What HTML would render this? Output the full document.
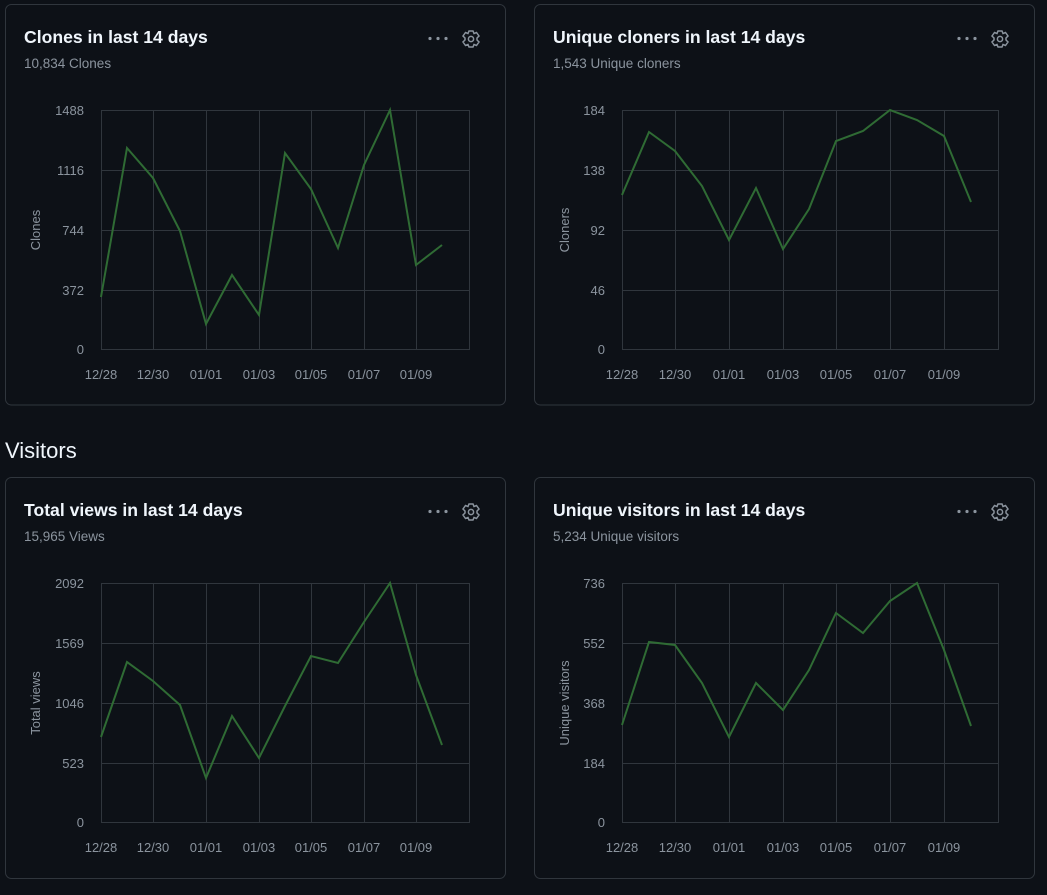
<!DOCTYPE html>
<html><head><meta charset="utf-8"><style>
html,body{margin:0;padding:0;background:#0d1117;width:1047px;height:895px;overflow:hidden}
svg{display:block;font-family:"Liberation Sans",sans-serif}
.t{fill:#f0f6fc;font-size:17.6px;font-weight:bold}
.s{fill:#8b949e;font-size:13.5px}
.y{fill:#8b949e;font-size:13px;text-anchor:end}
.x{fill:#8b949e;font-size:13px;text-anchor:middle}
.a{fill:#8b949e;font-size:13px;text-anchor:middle}
.g{stroke:#30363d;stroke-width:1;fill:none}
.l{stroke:#2f6b34;stroke-width:2;fill:none;stroke-linejoin:miter}
.p{fill:none;stroke:#30363d;stroke-width:1}
</style></head><body>
<svg width="1047" height="895" viewBox="0 0 1047 895">
<defs>
<g id="icons">
<circle cx="430" cy="38.5" r="1.6" fill="#8b949e"/><circle cx="438" cy="38.5" r="1.6" fill="#8b949e"/><circle cx="446" cy="38.5" r="1.6" fill="#8b949e"/>
<g transform="translate(471,39)" fill="none" stroke="#8b949e" stroke-width="1.5">
<path d="M-2,-8 L2,-8 L3,-5.5 L5.5,-6.5 L8,-3 L6,-1 L6,1 L8,3 L5.5,6.5 L3,5.5 L2,8 L-2,8 L-3,5.5 L-5.5,6.5 L-8,3 L-6,1 L-6,-1 L-8,-3 L-5.5,-6.5 L-3,-5.5 Z"/>
<circle r="2.6"/></g>
</g>
</defs>

<rect class="p" x="5.5" y="4.5" width="500" height="400.5" rx="6"/>
<rect class="p" x="534.5" y="4.5" width="500" height="400.5" rx="6"/>
<rect class="p" x="5.5" y="477.5" width="500" height="401" rx="6"/>
<rect class="p" x="534.5" y="477.5" width="500" height="401" rx="6"/>

<text x="5" y="458" fill="#f0f6fc" font-size="22">Visitors</text>

<text class="t" x="24" y="43">Clones in last 14 days</text>
<text class="s" x="24" y="68">10,834 Clones</text>
<use href="#icons"/>
<g class="g">
<path d="M101 110.5H469M101 170.5H469M101 230.5H469M101 290.5H469M101 349.5H469"/>
<path d="M101.5 110V350M153.5 110V350M206.5 110V350M259.5 110V350M311.5 110V350M364.5 110V350M416.5 110V350M469.5 110V350"/>
</g>
<text class="y" x="84" y="115">1488</text><text class="y" x="84" y="175">1116</text><text class="y" x="84" y="235">744</text><text class="y" x="84" y="295">372</text><text class="y" x="84" y="354">0</text>
<g class="x"><text x="101" y="379">12/28</text><text x="153" y="379">12/30</text><text x="206" y="379">01/01</text><text x="259" y="379">01/03</text><text x="311" y="379">01/05</text><text x="364" y="379">01/07</text><text x="416" y="379">01/09</text></g>
<text class="a" transform="translate(40,230) rotate(-90)">Clones</text>
<polyline class="l" points="101,297 127,148 153,178 180,231 206,324 232,275 259,315 285,153 311,189 338,248 364,165 390,110 416,265 442,245"/>

<text class="t" x="553" y="43">Unique cloners in last 14 days</text>
<text class="s" x="553" y="68">1,543 Unique cloners</text>
<use href="#icons" x="529"/>
<g class="g">
<path d="M622 110.5H998M622 170.5H998M622 230.5H998M622 290.5H998M622 349.5H998"/>
<path d="M622.5 110V350M675.5 110V350M729.5 110V350M783.5 110V350M836.5 110V350M890.5 110V350M944.5 110V350M998.5 110V350"/>
</g>
<text class="y" x="605" y="115">184</text><text class="y" x="605" y="175">138</text><text class="y" x="605" y="235">92</text><text class="y" x="605" y="295">46</text><text class="y" x="605" y="354">0</text>
<g class="x"><text x="622" y="379">12/28</text><text x="675" y="379">12/30</text><text x="729" y="379">01/01</text><text x="783" y="379">01/03</text><text x="836" y="379">01/05</text><text x="890" y="379">01/07</text><text x="944" y="379">01/09</text></g>
<text class="a" transform="translate(569,230) rotate(-90)">Cloners</text>
<polyline class="l" points="622,195 649,132 675,151 702,186 729,240 756,188 783,249 809,209 836,141 863,131 890,110 917,120 944,136 971,202"/>

<text class="t" x="24" y="516">Total views in last 14 days</text>
<text class="s" x="24" y="541">15,965 Views</text>
<use href="#icons" y="473"/>
<g class="g">
<path d="M101 583.5H469M101 643.5H469M101 703.5H469M101 763.5H469M101 822.5H469"/>
<path d="M101.5 583V823M153.5 583V823M206.5 583V823M259.5 583V823M311.5 583V823M364.5 583V823M416.5 583V823M469.5 583V823"/>
</g>
<text class="y" x="84" y="588">2092</text><text class="y" x="84" y="648">1569</text><text class="y" x="84" y="708">1046</text><text class="y" x="84" y="768">523</text><text class="y" x="84" y="827">0</text>
<g class="x"><text x="101" y="852">12/28</text><text x="153" y="852">12/30</text><text x="206" y="852">01/01</text><text x="259" y="852">01/03</text><text x="311" y="852">01/05</text><text x="364" y="852">01/07</text><text x="416" y="852">01/09</text></g>
<text class="a" transform="translate(40,703) rotate(-90)">Total views</text>
<polyline class="l" points="101,737 127,662 153,681 180,705 206,778 232,716 259,758 285,706 311,656 338,663 364,622 390,583 416,675 442,745"/>

<text class="t" x="553" y="516">Unique visitors in last 14 days</text>
<text class="s" x="553" y="541">5,234 Unique visitors</text>
<use href="#icons" x="529" y="473"/>
<g class="g">
<path d="M622 583.5H998M622 643.5H998M622 703.5H998M622 763.5H998M622 822.5H998"/>
<path d="M622.5 583V823M675.5 583V823M729.5 583V823M783.5 583V823M836.5 583V823M890.5 583V823M944.5 583V823M998.5 583V823"/>
</g>
<text class="y" x="605" y="588">736</text><text class="y" x="605" y="648">552</text><text class="y" x="605" y="708">368</text><text class="y" x="605" y="768">184</text><text class="y" x="605" y="827">0</text>
<g class="x"><text x="622" y="852">12/28</text><text x="675" y="852">12/30</text><text x="729" y="852">01/01</text><text x="783" y="852">01/03</text><text x="836" y="852">01/05</text><text x="890" y="852">01/07</text><text x="944" y="852">01/09</text></g>
<text class="a" transform="translate(569,703) rotate(-90)">Unique visitors</text>
<polyline class="l" points="622,725 649,642 675,645 702,683 729,737 756,683 783,710 809,670 836,613 863,633 890,601 917,583 944,650 971,726"/>
</svg>
</body></html>
